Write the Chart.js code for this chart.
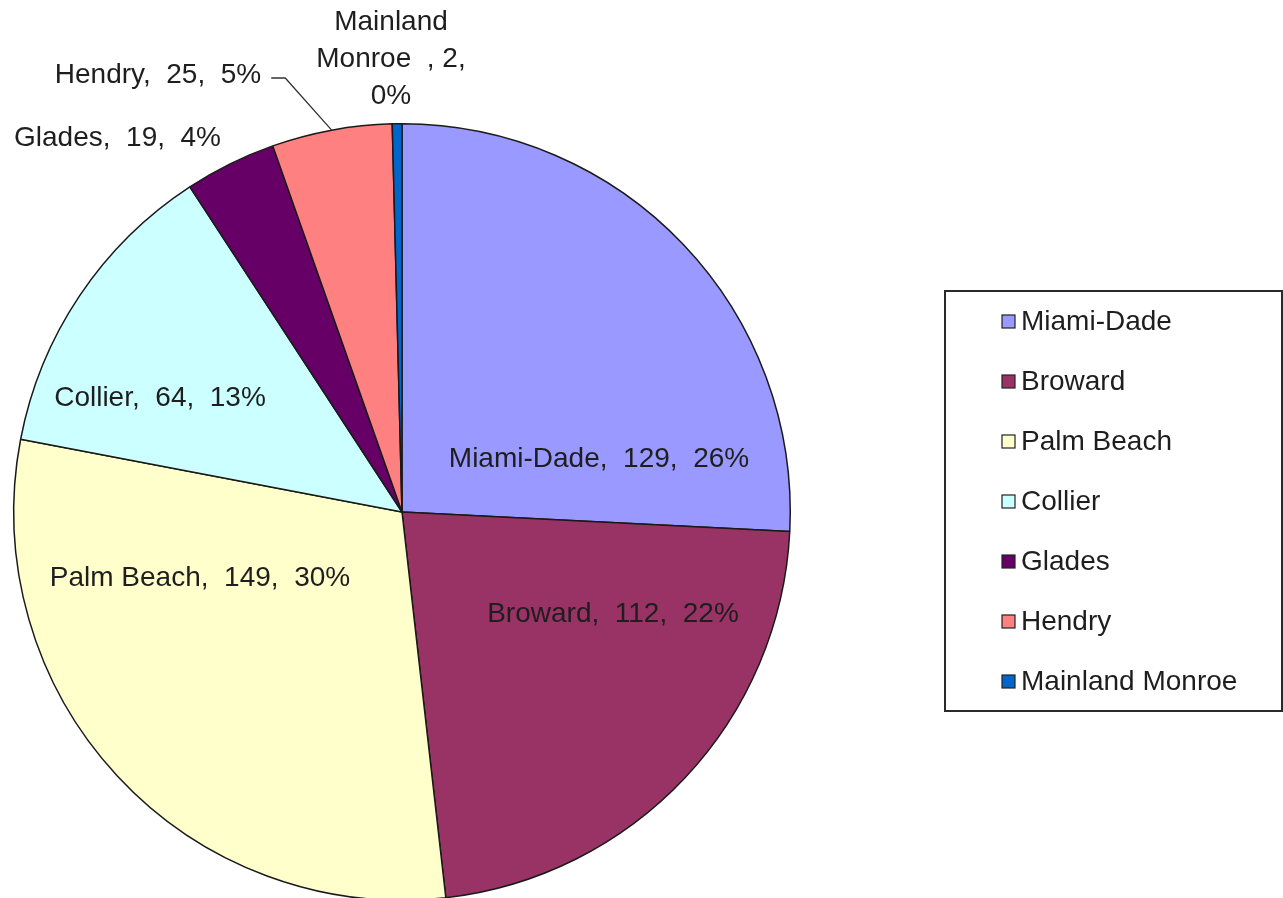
<!DOCTYPE html>
<html>
<head>
<meta charset="utf-8">
<script src="https://cdn.jsdelivr.net/npm/chart.js@4/dist/chart.umd.min.js"></script>
<style>
  html, body { margin: 0; padding: 0; background: #ffffff; overflow: hidden; }
  #wrap { width: 1283px; height: 910px; }
</style>
</head>
<body>
<div id="wrap"><canvas id="c" width="1283" height="910"></canvas></div>
<script>
// ---- data ----
const categories = ["Miami-Dade", "Broward", "Palm Beach", "Collier", "Glades", "Hendry", "Mainland Monroe"];
const counts = [129, 112, 149, 64, 19, 25, 2];
const sliceColors = ["#9999FF", "#993366", "#FFFFCC", "#CCFFFF", "#660066", "#FF8080", "#0066CC"];

const total = counts.reduce((a, b) => a + b, 0);
const FONT = '28px "Liberation Sans", Arial, sans-serif';

// label placement (offsets from the pie centre, in px) — style only
const labelPlacement = [
  { dx: 197, dy: -53 },
  { dx: 211, dy: 102 },
  { dx: -202, dy: 66 },
  { dx: -242, dy: -114 },
  { dx: -285, dy: -374, align: 'left', absX: 14 },
  { dx: -244, dy: -437, leader: true },
  { dx: -11, dy: -453, wrap: true }
];

function labelLines(i) {
  const pct = Math.round(counts[i] / total * 100) + "%";
  const p = labelPlacement[i];
  if (p.wrap) {
    const words = categories[i].split(" ");
    return [words[0], words.slice(1).join(" ") + "  , " + counts[i] + ",", pct];
  }
  return [categories[i] + ",  " + counts[i] + ",  " + pct];
}

const labelsPlugin = {
  id: 'customLabels',
  afterDraw(chart) {
    const ctx = chart.ctx;
    const meta = chart.getDatasetMeta(0);
    const cx = meta.data[0].x, cy = meta.data[0].y;
    ctx.save();
    ctx.font = FONT;
    ctx.fillStyle = '#1e1e1e';
    ctx.textBaseline = 'middle';
    meta.data.forEach((arc, i) => {
      const p = labelPlacement[i];
      const lines = labelLines(i);
      const lh = 37;
      const x = p.absX !== undefined ? p.absX : cx + p.dx;
      const y0 = cy + p.dy - (lines.length - 1) * lh / 2;
      ctx.textAlign = p.align || 'center';
      lines.forEach((ln, k) => ctx.fillText(ln, x, y0 + k * lh));
      if (p.leader) {
        const w = ctx.measureText(lines[0]).width;
        const xs = cx + p.dx + w / 2 + 10;
        const ys = cy + p.dy + 3;
        const mid = (arc.startAngle + arc.endAngle) / 2;
        const ex = arc.x + Math.cos(mid) * arc.outerRadius;
        const ey = arc.y + Math.sin(mid) * arc.outerRadius;
        ctx.beginPath();
        ctx.strokeStyle = '#333';
        ctx.lineWidth = 1.3;
        ctx.moveTo(xs, ys);
        ctx.lineTo(xs + 14, ys);
        ctx.lineTo(ex, ey);
        ctx.stroke();
      }
    });
    // legend box
    const lx = 945, ly = 291, lw = 337, lhgt = 420;
    ctx.strokeStyle = '#2a2a2a';
    ctx.lineWidth = 2;
    ctx.strokeRect(lx, ly, lw, lhgt);
    ctx.textAlign = 'left';
    categories.forEach((name, i) => {
      const yy = 322 + i * 60;
      ctx.fillStyle = sliceColors[i];
      ctx.fillRect(1002, yy - 7, 13, 13);
      ctx.strokeStyle = '#222';
      ctx.lineWidth = 1.2;
      ctx.strokeRect(1002, yy - 7, 13, 13);
      ctx.fillStyle = '#1e1e1e';
      ctx.fillText(name, 1021, yy);
    });
    ctx.restore();
  }
};

new Chart(document.getElementById('c'), {
  type: 'pie',
  data: {
    labels: categories,
    datasets: [{
      data: counts,
      backgroundColor: sliceColors,
      borderColor: '#1a1a1a',
      borderWidth: 1.5
    }]
  },
  options: {
    responsive: false,
    animation: false,
    layout: { padding: { left: 13, right: 492, top: 123, bottom: 9 } },
    plugins: {
      legend: { display: false },
      tooltip: { enabled: false }
    }
  },
  plugins: [labelsPlugin]
});
</script>
</body>
</html>
